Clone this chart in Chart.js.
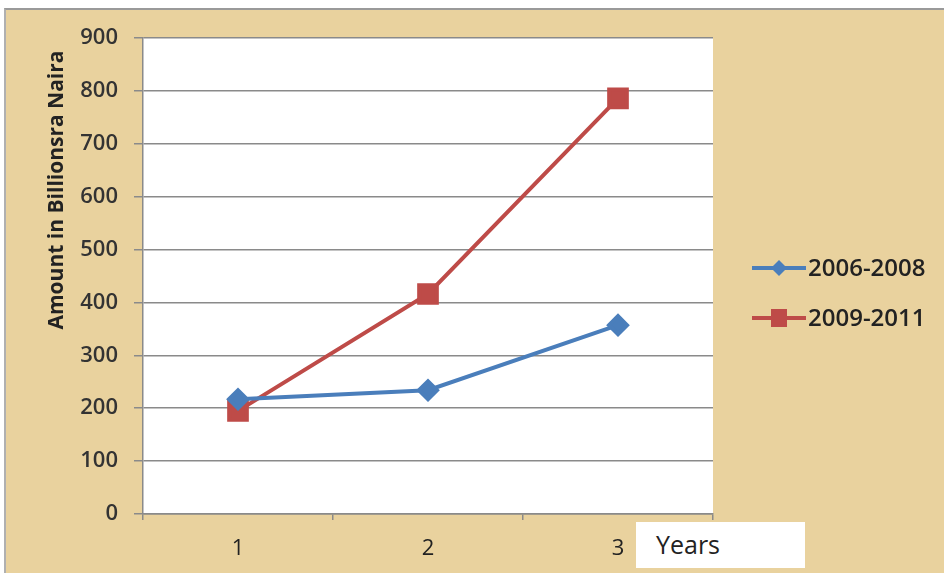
<!DOCTYPE html>
<html>
<head>
<meta charset="utf-8">
<script src="https://cdn.jsdelivr.net/npm/chart.js@4/dist/chart.umd.min.js"></script>
<style>
  html, body { margin: 0; padding: 0; background: #fff; }
  #wrap { position: relative; width: 948px; height: 575px; }
  #frame {
    position: absolute; left: 4px; top: 8px; width: 940px; height: 565px;
    box-sizing: border-box; border-top: 2px solid #9a9a9a; border-left: 2px solid #b0b0b0;
    background: #e9d29e;
  }
  canvas { position: absolute; left: 0; top: 0; }
  #years {
    position: absolute; left: 636px; top: 522px; width: 169px; height: 46px;
    background: #fff; font-family: "Open Sans", sans-serif; font-size: 25px; color: #222;
    box-sizing: border-box; padding: 5px 0 0 20px;
  }
</style>
</head>
<body>
<div id="wrap">
  <div id="frame"></div>
  <canvas id="chart" width="948" height="575"></canvas>
  <div id="years">Years</div>
</div>
<script>
// chart data
const categories = ["1", "2", "3"];
const series2006 = [217, 234, 357];
const series2009 = [195, 416, 786];
const seriesNames = ["2006-2008", "2009-2011"];
const yTicks = [0, 100, 200, 300, 400, 500, 600, 700, 800, 900];

const blue = "#4a7ebb";
const red = "#be4b48";
const gridGray = "#8a8a8a";

// white plot area + custom legend + off-centre y title
const decor = {
  id: "decor",
  beforeDraw(chart) {
    const { ctx, chartArea: a } = chart;
    ctx.save();
    ctx.fillStyle = "#fff";
    ctx.fillRect(a.left, a.top, a.right - a.left, a.bottom - a.top);
    ctx.restore();
  },
  afterDraw(chart) {
    const ctx = chart.ctx;
    ctx.save();
    // y axis title
    ctx.translate(57, 190);
    ctx.rotate(-Math.PI / 2);
    ctx.font = "bold 21px 'Open Sans', sans-serif";
    ctx.fillStyle = "#222";
    ctx.textAlign = "center";
    ctx.textBaseline = "middle";
    ctx.fillText("Amount in Billionsra Naira", 0, 0);
    ctx.restore();

    // legend
    ctx.save();
    chart.data.datasets.forEach((ds, i) => {
      const y = 268 + i * 50;
      ctx.strokeStyle = ds.borderColor;
      ctx.lineWidth = 4;
      ctx.beginPath();
      ctx.moveTo(752, y);
      ctx.lineTo(806, y);
      ctx.stroke();
      ctx.fillStyle = ds.borderColor;
      if (ds.pointStyle === "rectRot") {
        ctx.beginPath();
        ctx.moveTo(779, y - 8); ctx.lineTo(787, y); ctx.lineTo(779, y + 8); ctx.lineTo(771, y);
        ctx.closePath(); ctx.fill();
      } else {
        ctx.fillRect(771, y - 9, 16, 18);
      }
      ctx.fillStyle = "#222";
      ctx.font = "600 24px 'Open Sans', sans-serif";
      ctx.textBaseline = "middle";
      ctx.fillText(ds.label, 808, y + 1);
    });
    ctx.restore();
  }
};

new Chart(document.getElementById("chart"), {
  type: "line",
  data: {
    labels: categories,
    datasets: [
      {
        label: seriesNames[0],
        data: series2006,
        borderColor: blue,
        backgroundColor: blue,
        borderWidth: 4,
        pointStyle: "rectRot",
        pointRadius: 9,
        pointHoverRadius: 9,
        tension: 0
      },
      {
        label: seriesNames[1],
        data: series2009,
        borderColor: red,
        backgroundColor: red,
        borderWidth: 4,
        pointStyle: "rect",
        pointRadius: 12.5,
        pointHoverRadius: 12.5,
        tension: 0
      }
    ]
  },
  options: {
    responsive: false,
    animation: false,
    layout: { padding: { left: 0, right: 235, top: 38, bottom: 0 } },
    plugins: {
      legend: { display: false },
      tooltip: { enabled: false }
    },
    scales: {
      x: {
        offset: true,
        grid: { offset: true, drawOnChartArea: false, drawTicks: true, tickLength: 6, color: gridGray, lineWidth: 1.5 },
        border: { color: gridGray, width: 1.5 },
        ticks: { color: "#222", padding: 16, font: { family: "'Open Sans', sans-serif", size: 22 } },
        afterFit: (s) => { s.height = 61; }
      },
      y: {
        min: 0,
        max: 900,
        afterBuildTicks: (s) => { s.ticks = yTicks.map((v) => ({ value: v })); },
        grid: { color: gridGray, lineWidth: 1.5, tickLength: 9 },
        border: { color: gridGray, width: 1.5 },
        ticks: { color: "#333", padding: 16, font: { family: "'Open Sans', sans-serif", size: 22, weight: "600" } },
        afterFit: (s) => { s.width = 143; }
      }
    }
  },
  plugins: [decor]
});
</script>
</body>
</html>
